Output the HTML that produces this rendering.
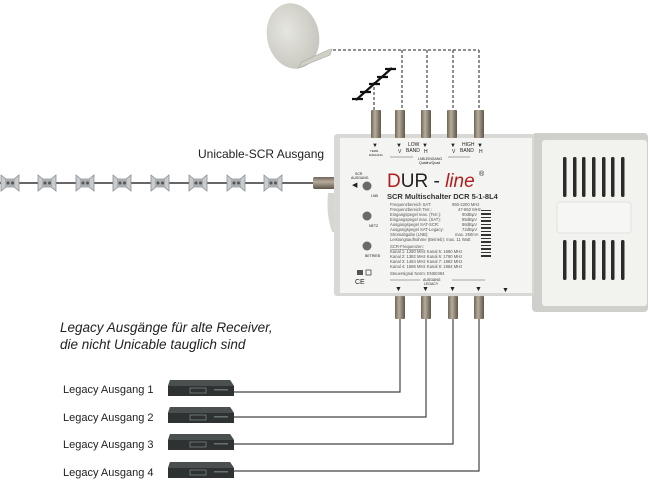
<!DOCTYPE html>
<html><head><meta charset="utf-8"><style>
html,body{margin:0;padding:0;background:#fff}
svg{display:block}
text{font-family:"Liberation Sans",sans-serif}
</style></head><body>
<svg width="650" height="481" viewBox="0 0 650 481" xmlns="http://www.w3.org/2000/svg">
<defs>
<linearGradient id="cn" x1="0" x2="1"><stop offset="0" stop-color="#6e6558"/><stop offset="0.4" stop-color="#b8ad9c"/><stop offset="1" stop-color="#5e564a"/></linearGradient>
<linearGradient id="cnh" x1="0" y1="0" x2="0" y2="1"><stop offset="0" stop-color="#6e6558"/><stop offset="0.4" stop-color="#b8ad9c"/><stop offset="1" stop-color="#5e564a"/></linearGradient>
<radialGradient id="dish" cx="0.4" cy="0.4" r="0.7"><stop offset="0" stop-color="#e6e6e0"/><stop offset="1" stop-color="#c4c4bc"/></radialGradient>
<g id="outlet"><path d="M-9,-8 L-4,-4 L4,-4 L9,-8 L9,8 L4,4 L-4,4 L-9,8 Z" fill="#c9ccce" stroke="#8c9093" stroke-width="0.8"/><rect x="-5" y="-4" width="10" height="8" fill="#a9adb0"/><circle cx="-2" cy="0" r="1.5" fill="#555"/><circle cx="2.5" cy="0" r="1.5" fill="#555"/></g>
<g id="rcv"><path d="M2,0 L62,0 L66,6 L66,16 L0,16 L0,6 Z" fill="#2e3232"/><path d="M2,0 L62,0 L66,6 L0,6 Z" fill="#4a4f4f"/><rect x="22" y="8" width="16" height="5" fill="none" stroke="#7a8080" stroke-width="0.8"/><rect x="46" y="9" width="14" height="1.5" fill="#6a7070"/></g>
</defs>

<ellipse cx="293" cy="36" rx="26" ry="33" transform="rotate(-12 293 36)" fill="url(#dish)"/>
<path d="M298,68 L330,55 L332,49 L328,50 L302,62 Z" fill="#d0d0c8" stroke="#a8a8a0" stroke-width="0.6"/>
<g stroke="#222" stroke-width="1" stroke-dasharray="3,2" fill="none">
<path d="M333,50 L479,50"/>
<path d="M402,50 L402,112 M427,50 L427,112 M453,50 L453,112 M479,50 L479,112"/>
<path d="M374,82 L374,112"/>
</g>
<g stroke="#111" stroke-width="2.2"><path d="M356,100 L392,68"/><path d="M352,99 L363,99 M360,92 L371,92 M369,84 L380,84 M377,77 L388,77 M385,69 L396,69"/></g>

<line x1="0" y1="183" x2="315" y2="183" stroke="#333" stroke-width="1.5"/>
<use href="#outlet" x="10" y="183"/><use href="#outlet" x="47" y="183"/><use href="#outlet" x="85" y="183"/><use href="#outlet" x="122" y="183"/><use href="#outlet" x="160" y="183"/><use href="#outlet" x="198" y="183"/><use href="#outlet" x="236" y="183"/><use href="#outlet" x="273" y="183"/>
<text x="198" y="158" font-size="12" fill="#222">Unicable-SCR Ausgang</text>
<rect x="313" y="177" width="22" height="12" rx="2" fill="url(#cnh)"/>

<path d="M328,193 L342,193 L342,232 L332,232 Q326,215 328,193 Z" fill="#d6d6d2"/>
<rect x="532" y="133" width="116" height="179" rx="4" fill="#cfcfcb"/>
<rect x="542" y="140" width="105" height="166" rx="3" fill="#f2f2ef"/>
<g fill="#2a2a28"><rect x="563" y="157" width="3.5" height="40" rx="1.5"/><rect x="573" y="157" width="3.5" height="40" rx="1.5"/><rect x="582" y="157" width="3.5" height="40" rx="1.5"/><rect x="592" y="157" width="3.5" height="40" rx="1.5"/><rect x="602" y="157" width="3.5" height="40" rx="1.5"/><rect x="611" y="157" width="3.5" height="40" rx="1.5"/><rect x="621" y="157" width="3.5" height="40" rx="1.5"/>
<rect x="563" y="240" width="3.5" height="40" rx="1.5"/><rect x="573" y="240" width="3.5" height="40" rx="1.5"/><rect x="582" y="240" width="3.5" height="40" rx="1.5"/><rect x="592" y="240" width="3.5" height="40" rx="1.5"/><rect x="602" y="240" width="3.5" height="40" rx="1.5"/><rect x="611" y="240" width="3.5" height="40" rx="1.5"/><rect x="621" y="240" width="3.5" height="40" rx="1.5"/></g>
<rect x="557" y="202" width="74" height="31" rx="3" fill="#f6f6f4" stroke="#ddd" stroke-width="0.8"/>

<rect x="334" y="134" width="200" height="162" rx="3" fill="#d8d8d4"/>
<rect x="340" y="138" width="192" height="155" fill="#f4f4f2"/>
<g fill="url(#cn)"><rect x="371" y="110" width="10" height="28" rx="1"/><rect x="395" y="110" width="10" height="28" rx="1"/><rect x="421" y="110" width="10" height="28" rx="1"/><rect x="447" y="110" width="10" height="28" rx="1"/><rect x="474" y="110" width="10" height="28" rx="1"/></g>
<g fill="url(#cn)"><rect x="395" y="296" width="10" height="23" rx="1"/><rect x="421" y="296" width="10" height="23" rx="1"/><rect x="448" y="296" width="10" height="23" rx="1"/><rect x="474" y="296" width="10" height="23" rx="1"/></g>

<g fill="#222" font-size="5">
<text x="372" y="147" font-size="6">▼</text><text x="396" y="147" font-size="6">▼</text><text x="422" y="147" font-size="6">▼</text><text x="450" y="147" font-size="6">▼</text><text x="477" y="147" font-size="6">▼</text>
<text x="408" y="146">LOW</text><text x="406" y="152">BAND</text><text x="398" y="153">V</text><text x="424" y="153">H</text>
<text x="462" y="146">HIGH</text><text x="460" y="152">BAND</text><text x="452" y="153">V</text><text x="479" y="153">H</text>
<text x="370" y="152" font-size="3">TERR.</text><text x="369" y="156" font-size="3">EINGANG</text>
<text x="418" y="160" font-size="3.5">LNB-EINGANG</text><text x="419" y="164" font-size="3.5">Quattro/Quad</text>
<text x="355" y="175" font-size="3.5">SCR</text><text x="351" y="179" font-size="3.5">AUSGANG</text>
<text x="352" y="187" font-size="7">◀</text>
<text x="371" y="197" font-size="3.5">LNB</text><text x="369" y="227" font-size="3.5">NETZ</text><text x="365" y="257" font-size="3.5">BETRIEB</text>
<text x="423" y="281" font-size="3.5">AUSGANG</text><text x="424" y="285" font-size="3.5">LEGACY</text>
<text x="395" y="291" font-size="7">▼</text><text x="422" y="291" font-size="7">▼</text><text x="449" y="291" font-size="7">▼</text><text x="475" y="291" font-size="7">▼</text><text x="502" y="292" font-size="7">▼</text>
<text x="355" y="284" font-size="7">CE</text>
</g>
<g stroke="#555" stroke-width="0.6"><line x1="390" y1="157" x2="413" y2="157"/><line x1="448" y1="157" x2="470" y2="157"/><line x1="390" y1="280" x2="420" y2="280"/><line x1="452" y1="280" x2="485" y2="280"/></g>
<rect x="366" y="270" width="5" height="5" fill="none" stroke="#333" stroke-width="0.7"/><rect x="357" y="270" width="6" height="5" fill="#555"/>
<circle cx="367" cy="186" r="4.5" fill="#6a6a6a"/><circle cx="367" cy="216" r="4.5" fill="#6a6a6a"/><circle cx="367" cy="246" r="4.5" fill="#6a6a6a"/>
<text x="387" y="187" font-size="19" fill="#222"><tspan fill="#b01e1e">D</tspan>UR - <tspan font-style="italic" fill="#b01e1e">line</tspan></text>
<text x="479" y="176" font-size="7" fill="#222">®</text>
<text x="387" y="199" font-size="7.5" font-weight="bold" fill="#333">SCR Multischalter  DCR 5-1-8L4</text>
<g font-size="4.2" fill="#555">
<text x="390" y="206">Frequenzbereich SAT:</text><text x="452" y="206">950-2200 MHz</text>
<text x="390" y="211">Frequenzbereich Terr.:</text><text x="458" y="211">47-862 MHz</text>
<text x="390" y="216">Eingangspegel max. (Terr.):</text><text x="462" y="216">90dBµV</text>
<text x="390" y="221">Eingangspegel max. (SAT):</text><text x="462" y="221">85dBµV</text>
<text x="390" y="226">Ausgangspegel SAT-SCR:</text><text x="462" y="226">86dBµV</text>
<text x="390" y="231">Ausgangspegel SAT-Legacy:</text><text x="462" y="231">72dBµV</text>
<text x="390" y="236">Stromabgabe (LNB):</text><text x="455" y="236">max. 250mA</text>
<text x="390" y="241">Leistungsaufnahme (Betrieb): max. 11 Watt</text>
<text x="390" y="248" text-decoration="underline">SCR-Frequenzen:</text>
<text x="390" y="253">Kanal 1:  1280 MHz    Kanal 5:  1680 MHz</text>
<text x="390" y="258">Kanal 2:  1382 MHz    Kanal 6:  1780 MHz</text>
<text x="390" y="263">Kanal 3:  1484 MHz    Kanal 7:  1882 MHz</text>
<text x="390" y="268">Kanal 4:  1586 MHz    Kanal 8:  1984 MHz</text>
<text x="390" y="275">Steuersignal Norm: EN50494</text>
</g>
<g fill="#333"><rect x="481" y="210" width="10" height="1"/><rect x="481" y="213" width="10" height="2"/><rect x="481" y="217" width="10" height="1"/><rect x="481" y="220" width="10" height="2"/><rect x="481" y="224" width="10" height="1"/><rect x="481" y="227" width="10" height="2"/><rect x="481" y="231" width="10" height="1"/><rect x="481" y="234" width="10" height="2"/><rect x="481" y="238" width="10" height="1"/><rect x="481" y="241" width="10" height="2"/><rect x="481" y="245" width="10" height="1"/><rect x="481" y="248" width="10" height="2"/><rect x="481" y="252" width="10" height="1"/><rect x="481" y="255" width="10" height="2"/></g>

<g stroke="#444" stroke-width="1.2" fill="none">
<path d="M400,319 L400,392 L233,392"/>
<path d="M426,319 L426,417 L233,417"/>
<path d="M453,319 L453,444 L233,444"/>
<path d="M479,319 L479,471 L233,471"/>
</g>
<use href="#rcv" x="168" y="380"/><use href="#rcv" x="168" y="407"/><use href="#rcv" x="168" y="434"/><use href="#rcv" x="168" y="462"/>
<g font-size="11" fill="#222">
<text x="63" y="393">Legacy Ausgang 1</text>
<text x="63" y="421">Legacy Ausgang 2</text>
<text x="63" y="448">Legacy Ausgang 3</text>
<text x="63" y="476">Legacy Ausgang 4</text>
</g>
<g font-size="13.5" font-style="italic" fill="#222">
<text x="60" y="332">Legacy Ausgänge für alte Receiver,</text>
<text x="60" y="349">die nicht Unicable tauglich sind</text>
</g>
</svg>
</body></html>
